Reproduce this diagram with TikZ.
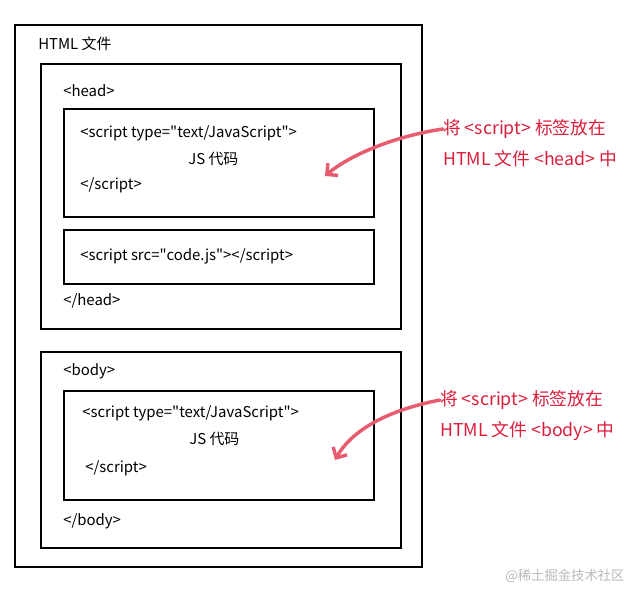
\documentclass[tikz,border=0pt]{standalone}
\usepackage{fontspec}
\setmainfont{Noto Sans CJK SC}
\usetikzlibrary{arrows.meta}
\definecolor{notered}{RGB}{218,30,60}
\definecolor{arrowpink}{RGB}{232,92,112}
\definecolor{markgray}{RGB}{185,185,185}
\newcommand{\dq}{\textquotedbl}
\begin{document}
\begin{tikzpicture}[x=0.75pt,y=-0.75pt,
  box/.style={draw, line width=1.5pt, anchor=north west, inner sep=0pt},
  code/.style={anchor=west, inner sep=0pt, font=\fontsize{11.2}{13}\selectfont},
  note/.style={anchor=west, inner sep=0pt, text=notered, font=\fontsize{13.3}{16}\selectfont},
  pointer/.style={arrowpink, line width=2.6pt, line cap=round, -{Straight Barb[length=6pt,width=12pt]}}]
\useasboundingbox (0,0) rectangle (644,600);
\node[box, minimum width=305.25pt, minimum height=406.5pt] (html) at (14,24) {};
\node[box, minimum width=270pt, minimum height=198.75pt] (head) at (40,63) {};
\node[box, minimum width=232.5pt, minimum height=81pt] (inline1) at (63,108) {};
\node[box, minimum width=232.5pt, minimum height=40.5pt] (extern) at (63,229) {};
\node[box, minimum width=270pt, minimum height=147pt] (body) at (40,351) {};
\node[box, minimum width=232.5pt, minimum height=81.75pt] (inline2) at (63,390) {};

\node[code] (htmltitle) at (38,44) {HTML 文件};
\node[code] (headopen) at (63,91) {<head>};
\node[code] (s1open) at (80,133) {<script type=\dq text/JavaScript\dq>};
\node[code] (s1code) at (188,159) {JS 代码};
\node[code] (s1close) at (80,185) {</script>};
\node[code] (s2) at (80,256) {<script src=\dq code.js\dq></script>};
\node[code] (headclose) at (63,301) {</head>};
\node[code] (bodyopen) at (63,371) {<body>};
\node[code] (s3open) at (82,413) {<script type=\dq text/JavaScript\dq>};
\node[code] (s3code) at (189,439) {JS 代码};
\node[code] (s3close) at (85,468) {</script>};
\node[code] (bodyclose) at (63,521) {</body>};

\node[note] (note1a) at (443,129) {将 <script> 标签放在};
\node[note] (note1b) at (443,159) {HTML 文件 <head> 中};
\node[note] (note2a) at (440,400) {将 <script> 标签放在};
\node[note] (note2b) at (440,431) {HTML 文件 <body> 中};
\node[anchor=west, inner sep=0pt, text=markgray, font=\fontsize{10}{12}\selectfont] (mark) at (505,576) {@稀土掘金技术社区};

\coordinate (tip1) at (325,176);
\coordinate (tip2) at (335,460);
\draw[pointer] (note1a.west) .. controls (395,136) and (350,155) .. (tip1);
\draw[pointer] (note2a.west) .. controls (388,410) and (352,430) .. (tip2);
\end{tikzpicture}
\end{document}
